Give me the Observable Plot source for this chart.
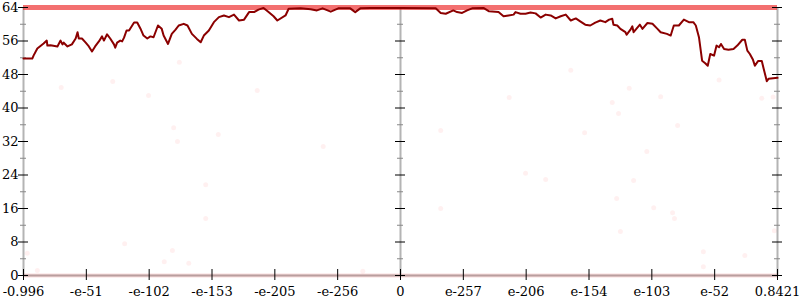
<!DOCTYPE html>
<html><head><meta charset="utf-8">
<script src="https://cdn.jsdelivr.net/npm/d3@7"></script>
<script src="https://cdn.jsdelivr.net/npm/@observablehq/plot@0.6"></script>
<style>html,body{margin:0;padding:0;background:#fff} svg{display:block}</style>
</head><body><div id="chart"></div>
<script>
const xTickPos = [-6,-5,-4,-3,-2,-1,0,1,2,3,4,5,6];
const xTickLabels = ["-0.996","-e-51","-e-102","-e-153","-e-205","-e-256","0","e-257","e-206","e-154","e-103","e-52","0.8421"];
const yMajor = [0,8,16,24,32,40,48,56,64];
const yMinor = [4,12,20,28,36,44,52,60];
const axisPos = [-6,0,6];
const ceilingY = [64];
const floorY = [0];

const lineX = [-6.00,-5.86,-5.84,-5.78,-5.68,-5.63,-5.62,-5.57,-5.46,-5.41,
-5.38,-5.36,-5.30,-5.23,-5.17,-5.14,-5.12,-5.07,-5.01,-4.96,
-4.91,-4.86,-4.80,-4.75,-4.72,-4.67,-4.62,-4.56,-4.54,-4.51,
-4.46,-4.43,-4.40,-4.36,-4.32,-4.30,-4.24,-4.19,-4.14,-4.09,
-4.03,-3.98,-3.93,-3.86,-3.80,-3.77,-3.70,-3.64,-3.58,-3.53,
-3.45,-3.39,-3.32,-3.24,-3.18,-3.13,-3.05,-2.97,-2.89,-2.81,
-2.73,-2.65,-2.57,-2.49,-2.41,-2.33,-2.26,-2.18,-2.10,-2.02,
-1.96,-1.83,-1.78,-1.59,-1.43,-1.33,-1.24,-1.11,-0.99,-0.80,
-0.72,-0.64,-0.48,0,0.56,0.64,0.72,0.84,0.90,0.98,
1.06,1.14,1.32,1.41,1.56,1.64,1.72,1.80,1.83,1.91,
1.99,2.07,2.15,2.23,2.31,2.39,2.47,2.55,2.63,2.71,
2.79,2.86,2.94,3.02,3.10,3.18,3.26,3.32,3.37,3.39,
3.45,3.50,3.58,3.60,3.66,3.69,3.71,3.77,3.81,3.85,
3.93,4.01,4.09,4.14,4.24,4.30,4.35,4.43,4.51,4.59,
4.66,4.70,4.75,4.80,4.85,4.89,4.93,4.99,5.03,5.07,
5.10,5.15,5.22,5.30,5.36,5.44,5.48,5.52,5.56,5.61,
5.64,5.69,5.75,5.78,5.83,5.86,6.00];
const lineY = [51.8,51.8,52.5,54.2,55.4,56.1,54.9,55.0,54.7,56.1,
55.2,55.6,54.7,55.2,56.6,58.1,56.6,56.6,55.6,54.7,
53.5,54.7,55.9,57.1,56.1,57.6,56.6,55.2,54.4,55.6,
56.1,55.9,56.8,58.5,58.5,59.0,60.4,60.4,59.0,57.3,
56.6,57.1,56.9,59.7,58.9,57.3,55.3,57.7,58.7,59.7,
60.1,59.7,57.7,56.5,55.7,57.3,58.5,60.5,61.7,62.1,
61.7,62.3,60.9,61.1,62.9,62.9,63.5,63.9,62.9,61.9,
60.9,62.1,63.7,63.8,63.6,63.3,63.8,63.0,63.8,63.8,
62.9,63.8,63.9,63.9,63.8,62.7,62.5,63.3,62.9,62.7,
63.3,63.8,63.9,63.1,62.9,61.9,62.1,62.3,62.9,62.5,
62.5,62.8,62.6,61.6,62.3,62.1,61.4,61.9,62.3,60.9,
61.4,60.7,59.9,59.7,60.4,60.9,60.5,61.1,61.3,59.9,
59.7,58.9,58.1,57.5,58.7,59.5,58.1,59.2,59.9,58.9,
60.3,60.1,58.9,58.1,57.7,57.3,59.7,59.7,61.1,60.5,
60.5,59.7,56.9,51.3,50.7,50.1,52.9,52.5,54.9,54.5,
55.3,54.1,53.9,54.1,54.9,56.3,56.3,53.7,52.9,51.5,
50.1,51.2,51.2,49.4,46.4,47.0,47.2];

const scatterX = [-4.58,-4.01,-3.61,-3.55,-2.90,-2.28,-3.10,1.73,3.64,3.37,
4.14,3.47,2.93,4.41,3.92,1.99,2.31,3.71,3.44,-5.94,
-4.39,-3.63,-3.76,-3.37,-3.10,-5.40,-3.52,4.03,4.33,4.36,
3.50,4.82,5.48,4.82,5.95,-0.60,0.64,5.07,5.75,5.93,
0.64,-1.23,2.71,-5.78];
const scatterY = [46.3,43.0,35.3,32.0,33.7,44.2,21.7,42.5,44.7,41.3,
42.7,38.7,34.1,35.8,29.6,24.4,22.9,22.7,18.4,5.3,
7.6,6.0,3.3,2.9,13.6,44.9,50.9,16.2,15.0,13.6,
10.5,5.7,4.8,2.1,10.7,1.0,16.0,46.7,42.3,42.6,
34.6,30.8,49.0,1.2];

const line = lineX.map((x, i) => ({x, y: lineY[i]}));
const scatter = scatterX.map((x, i) => ({x, y: scatterY[i]}));
const majorTicks = axisPos.flatMap(a => yMajor.map(y => ({a, y})));
const minorTicks = axisPos.flatMap(a => yMinor.map(y => ({a, y})));

const chart = Plot.plot({
  width: 800, height: 300,
  marginLeft: 23, marginRight: 23, marginTop: 7, marginBottom: 25,
  style: {fontFamily: "DejaVu Serif", fontSize: "13px", background: "white", color: "black"},
  x: {domain: [-6, 6]},
  y: {domain: [0, 64]},
  marks: [
    Plot.ruleX(axisPos, {stroke: "#b4b4b4", strokeWidth: 2}),
    Plot.ruleY(floorY, {stroke: "#b4b4b4", strokeWidth: 2}),
    Plot.dot(scatter, {x: "x", y: "y", r: 2.5, fill: "red", fillOpacity: 0.06, stroke: "none"}),
    Plot.ruleY(ceilingY, {stroke: "#ec2424", strokeWidth: 5, strokeOpacity: 0.65}),
    Plot.ruleY(floorY, {stroke: "#d42020", strokeWidth: 4, strokeOpacity: 0.15}),
    Plot.ruleY(minorTicks, {y: "y", x1: "a", x2: "a", insetLeft: -3, insetRight: -3, stroke: "#888"}),
    Plot.ruleY(majorTicks, {y: "y", x1: "a", x2: "a", insetLeft: -5, insetRight: -5, stroke: "black"}),
    Plot.axisX({ticks: xTickPos, tickSize: 11, dy: -6, tickFormat: () => "", stroke: "black", label: null}),
    Plot.axisX({ticks: xTickPos, tickSize: 0, tickPadding: 11, tickFormat: d => xTickLabels[xTickPos.indexOf(d)], label: null}),
    Plot.axisY({ticks: yMajor, tickSize: 0, tickPadding: 5, tickFormat: d => String(d), label: null}),
    Plot.line(line, {x: "x", y: "y", stroke: "#8b0000", strokeWidth: 2})
  ]
});
document.getElementById("chart").append(chart);
</script>
</body></html>
